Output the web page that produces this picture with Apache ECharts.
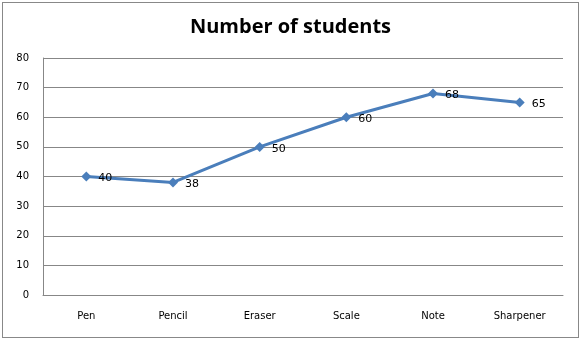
<!DOCTYPE html>
<html><head><meta charset="utf-8">
<script src="https://cdn.jsdelivr.net/npm/echarts@6/dist/echarts.min.js"></script>
<style>html,body{margin:0;padding:0;background:#fff}#c{width:581px;height:341px}
#frame{position:absolute;left:2px;top:2px;width:577px;height:336px;border:1px solid #888;box-sizing:border-box;pointer-events:none}</style>
</head><body><div id="c"></div><div id="frame"></div>
<script>
const categories = ['Pen','Pencil','Eraser','Scale','Note','Sharpener'];
const students = [40,38,50,60,68,65];
const yTicks = [0,10,20,30,40,50,60,70,80];
const chart = echarts.init(document.getElementById('c'));
chart.setOption({
  animation:false,
  title:{text:'Number of students',left:'center',top:12,textStyle:{fontFamily:'Open Sans',fontWeight:'bold',fontSize:20,color:'#000'}},
  grid:{left:43,right:18,top:58,bottom:46},
  xAxis:{type:'category',data:categories,boundaryGap:true,
    axisLine:{lineStyle:{color:'#878787'}},axisTick:{show:false},
    axisLabel:{fontFamily:'DejaVu Sans',fontSize:10,color:'#000',margin:16}},
  yAxis:{type:'value',min:yTicks[0],max:yTicks[yTicks.length-1],interval:10,
    axisLine:{show:true,lineStyle:{color:'#878787'}},axisTick:{show:false},
    splitLine:{lineStyle:{color:'#878787'}},
    axisLabel:{fontFamily:'DejaVu Sans',fontSize:10,color:'#000',margin:14}},
  series:[{type:'line',data:students,symbol:'diamond',symbolSize:10,
    lineStyle:{color:'#4a7ebb',width:3},itemStyle:{color:'#4a7ebb'},
    label:{show:true,position:'right',distance:7,offset:[0,2],fontFamily:'DejaVu Sans',fontSize:11,color:'#000'}}]
});
</script></body></html>
